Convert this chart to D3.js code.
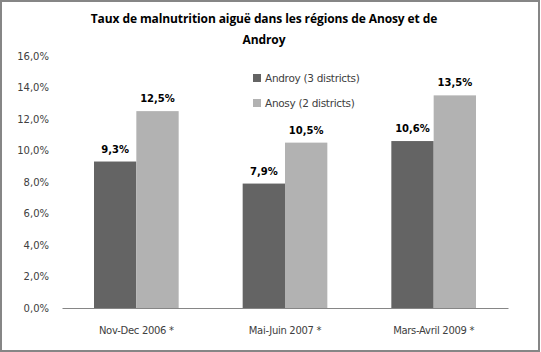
<!DOCTYPE html>
<html>
<head>
<meta charset="utf-8">
<script src="https://cdn.jsdelivr.net/npm/d3@7"></script>
<style>
  body { margin: 0; background: #fff; }
</style>
</head>
<body>
<div id="chart"></div>
<script>
var categories = ["Nov-Dec 2006*", "Mai-Juin 2007*", "Mars-Avril 2009*"];
var seriesNames = ["Androy (3 districts)", "Anosy (2 districts)"];
var androy = [9.3, 7.9, 10.6];
var anosy = [12.5, 10.5, 13.5];
var yTicks = [0, 2, 4, 6, 8, 10, 12, 14, 16];
var colors = ["#646464", "#b2b2b2"];

var W = 541, H = 352;
var margin = { top: 56, right: 33, bottom: 44, left: 62 },
    width = 508 - margin.left,
    height = 308 - margin.top;

var svg = d3.select("#chart")
    .append("svg")
    .attr("width", W)
    .attr("height", H);

// outer border
svg.append("rect")
    .attr("x", 1).attr("y", 1)
    .attr("width", W - 3).attr("height", H - 2)
    .attr("fill", "#fff")
    .attr("stroke", "#868686")
    .attr("stroke-width", 2);

// title
var title = svg.append("text")
    .attr("text-anchor", "middle")
    .style("font-family", "'Open Sans', sans-serif")
    .style("font-weight", "bold")
    .style("font-size", "12px")
    .style("letter-spacing", "-0.1px")
    .attr("fill", "#000");
title.append("tspan").attr("x", 264).attr("y", 23)
    .text("Taux de malnutrition aiguë dans les régions de Anosy et de");
title.append("tspan").attr("x", 264).attr("y", 44).text("Androy");

var g = svg.append("g")
    .attr("transform", "translate(" + margin.left + "," + margin.top + ")");

var x = d3.scaleBand().domain(categories).range([0, width]).paddingInner(0).paddingOuter(0);
var xs = d3.scaleBand().domain([0, 1]).range([32, x.bandwidth() - 32]);
var y = d3.scaleLinear().domain([0, 16]).range([height, 0]);

// y axis labels
g.selectAll(".ytick")
    .data(yTicks)
    .enter()
    .append("text")
    .attr("class", "ytick")
    .attr("x", -13)
    .attr("y", function (d) { return y(d); })
    .attr("dy", "0.35em")
    .attr("text-anchor", "end")
    .style("font-family", "'DejaVu Sans', sans-serif")
    .style("font-size", "10px")
    .attr("fill", "#404040")
    .text(function (d) { return d.toFixed(1).replace(".", ",") + "%"; });

var data = categories.map(function (c, i) {
    return { category: c, values: [androy[i], anosy[i]] };
});

var groups = g.selectAll(".group")
    .data(data)
    .enter()
    .append("g")
    .attr("class", "group")
    .attr("transform", function (d) { return "translate(" + x(d.category) + ",0)"; });

groups.selectAll("rect")
    .data(function (d) { return d.values; })
    .enter()
    .append("rect")
    .attr("x", function (d, i) { return xs(i); })
    .attr("width", xs.bandwidth())
    .attr("y", function (d) { return y(d); })
    .attr("height", function (d) { return height - y(d); })
    .attr("fill", function (d, i) { return colors[i]; });

groups.selectAll(".lbl")
    .data(function (d) { return d.values; })
    .enter()
    .append("text")
    .attr("class", "lbl")
    .attr("x", function (d, i) { return xs(i) + xs.bandwidth() / 2; })
    .attr("y", function (d) { return y(d) - 9; })
    .attr("text-anchor", "middle")
    .style("font-family", "'DejaVu Sans', sans-serif")
    .style("font-weight", "bold")
    .style("font-size", "10px")
    .attr("fill", "#000")
    .text(function (d) { return d.toFixed(1).replace(".", ",") + "%"; });

// x axis
g.append("g")
    .attr("transform", "translate(0," + height + ")")
    .call(d3.axisBottom(x).tickSize(0).tickFormat(""))
    .call(function (a) { a.select(".domain").attr("stroke", "#868686"); });

g.selectAll(".xlbl")
    .data(categories)
    .enter()
    .append("text")
    .attr("class", "xlbl")
    .attr("x", function (d) { return x(d) + x.bandwidth() / 2; })
    .attr("y", height + 26)
    .attr("text-anchor", "middle")
    .style("font-family", "'DejaVu Sans', sans-serif")
    .style("font-size", "10px")
    .style("letter-spacing", "-0.3px")
    .attr("fill", "#404040")
    .text(function (d) { return d.replace("*", " *"); });

// legend
var legend = svg.selectAll(".legend")
    .data(seriesNames)
    .enter()
    .append("g")
    .attr("class", "legend")
    .attr("transform", function (d, i) { return "translate(253," + (78 + i * 25) + ")"; });

legend.append("rect")
    .attr("x", 0).attr("y", -4)
    .attr("width", 8).attr("height", 8)
    .attr("fill", function (d, i) { return colors[i]; });

legend.append("text")
    .attr("x", 12)
    .attr("y", 0)
    .attr("dy", "0.35em")
    .style("font-family", "'DejaVu Sans', sans-serif")
    .style("font-size", "10.5px")
    .style("letter-spacing", "-0.3px")
    .attr("fill", "#404040")
    .text(function (d) { return d; });
</script>
</body>
</html>
